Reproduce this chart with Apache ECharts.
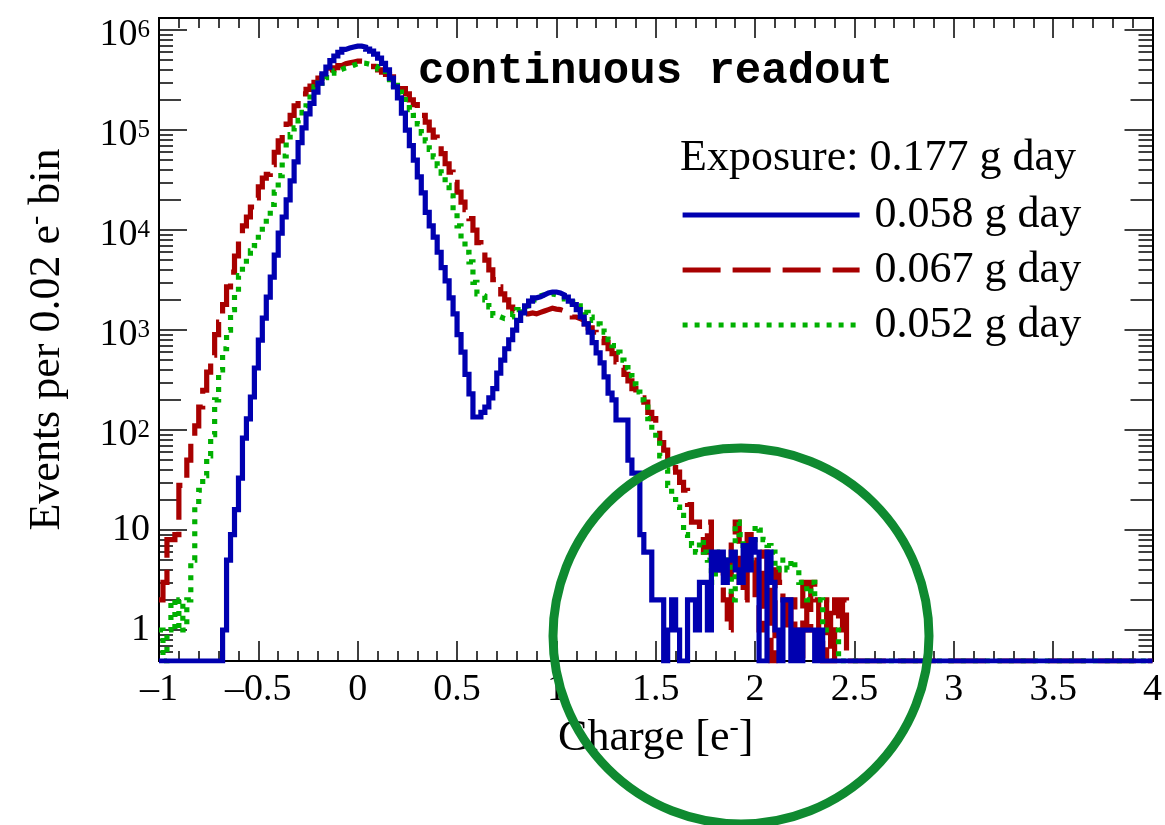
<!DOCTYPE html>
<html><head><meta charset="utf-8">
<script src="https://cdn.jsdelivr.net/npm/echarts@6/dist/echarts.min.js"></script>
<style>html,body{margin:0;padding:0;background:#fff}#c{width:1165px;height:825px}</style>
</head><body><div id="c"></div>
<script>
// Histogram binning (charge in e-)
const binStart = -1, binWidth = 0.02, nBins = 250;

// Counts per 0.02 e- bin, starting at -1 (bins beyond the list are empty)
const blueCounts = [
0,0,0,0,0,0,0,0,0,0,0,0,0,0,0,0,
1,5,9,16,33,83,129,214,417,794,
1318,2138,3388,5623,9300,13500,20000,31000,48000,75000,
105000,145000,185000,240000,295000,365000,425000,495000,550000,600000,
640000,660000,676000,690000,690000,676000,645000,615000,575000,525000,
465000,400000,330000,270000,210000,148000,100000,70000,50000,34000,
23500,15000,11000,8500,6000,4200,3100,2100,1450,900,
600,360,230,135,135,150,170,210,260,370,
500,650,800,1000,1250,1480,1750,1950,2100,2150,
2250,2350,2400,2400,2350,2250,2140,1950,1800,1600,
1350,1150,950,750,590,470,340,234,200,126,
126,126,50,37,37,9,6,6,2,2,
2,0,1,2,1,0,0,2,2,1,
3,3,1,6,4,6,3,5,6,4,
3,7,4,8,6,0,0,6,3,1,
0,2,2,0,1,0,1,1,1,0,
1];
const redCounts = [
2,3,8,8,9,28,30,50,80,110,
170,250,380,560,900,1200,1800,2700,3800,5500,
8000,11000,13500,17000,21000,27000,33000,36000,45000,60000,
78000,93000,115000,140000,175000,205000,230000,255000,275000,300000,
330000,350000,375000,400000,420000,440000,460000,470000,480000,488000,
490000,488000,475000,460000,430000,400000,380000,360000,340000,320000,
300000,260000,230000,200000,180000,160000,140000,120000,100000,85000,
72000,58000,46000,38000,30000,24000,19000,16000,13000,10000,
7500,6000,5000,4000,3200,2700,2300,2000,1700,1550,
1500,1450,1450,1480,1450,1500,1550,1600,1650,1620,
1600,1550,1500,1450,1350,1300,1250,1150,1050,950,
880,820,750,650,580,480,420,360,310,260,
230,210,190,150,130,100,75,63,50,42,
38,30,25,18,12,12,8,6,12,5,
4,5,2,1,8,12,3,2,9,5,
2,1,6,3,0,4,3,2,1,2,
1,0,3,1,3,2,1,0,2,0,
2,1,2];
const greenCounts = [
1,0,1,2,1,2,1,2,5,17,
25,35,55,90,200,400,650,1000,1600,2300,
3500,4500,5500,6200,7000,9000,11000,13500,18000,24000,
35000,55000,75000,90000,105000,125000,150000,175000,230000,270000,
295000,315000,335000,370000,390000,405000,420000,430000,445000,460000,
468000,465000,455000,446000,430000,410000,385000,360000,320000,280000,
240000,214000,185000,160000,140000,115000,93000,78000,64000,54000,
44000,37000,28000,22000,15000,11000,8200,6000,4800,3000,
2300,2200,2000,1700,1400,1350,1300,1300,1350,1450,
1600,1700,1750,1850,2000,2200,2250,2250,2300,2250,
2200,2150,2050,2000,1900,1750,1600,1500,1350,1250,
1150,1050,950,800,700,600,500,420,350,290,
240,200,170,130,100,80,55,40,28,22,
17,14,9,8,7,6,8,6,5,3,
5,6,4,5,2,12,9,7,5,8,
11,10,8,7,6,4,5,5,4,5,
4,3,3,2,3,2,2,1,1,1,
1];

const seriesNames = ['0.058 g day', '0.067 g day', '0.052 g day'];
const exposureLabel = 'Exposure: 0.177 g day';
const titleText = 'continuous readout';
const xTickLabels = [-1, -0.5, 0, 0.5, 1, 1.5, 2, 2.5, 3, 3.5, 4];
const yMajorTicks = [1, 10, 100, 1e3, 1e4, 1e5, 1e6];
const yMin = 0.49, yMax = 1.32e6;

// tick positions for the log axis
const yMinor = [], yTwo = [];
[0.5, 0.6, 0.7, 0.8, 0.9].forEach(v => yMinor.push(v));
for (let e = 0; e < 6; e++) {
  const d = Math.pow(10, e);
  yTwo.push(2 * d);
  for (let k = 3; k <= 9; k++) yMinor.push(k * d);
}

function toSteps(counts) {
  const pts = [];
  let last = yMin;
  for (let i = 0; i < nBins; i++) {
    const c = i < counts.length ? counts[i] : 0;
    last = c > 0 ? c : yMin;
    pts.push([+(binStart + i * binWidth).toFixed(2), last]);
  }
  pts.push([+(binStart + nBins * binWidth).toFixed(2), last]);
  return pts;
}

const SERIF = "'Liberation Serif', 'DejaVu Serif', serif";
const black = '#000';
const titleRich = {
  t: { fontSize: 44, fontFamily: SERIF, color: black },
  s: { fontSize: 28, fontFamily: SERIF, color: black, padding: [0, 0, 22, 0] }
};

function xAxisCfg(pos, labels) {
  return {
    type: 'value', min: -1, max: 4, interval: 0.5, position: pos,
    axisLine: { show: true, onZero: false, lineStyle: { color: black, width: 2 } },
    axisTick: { show: true, inside: true, length: 20, lineStyle: { color: black, width: 1.5 } },
    minorTick: { show: true, splitNumber: 5, length: 10, lineStyle: { color: black, width: 1.5 } },
    splitLine: { show: false },
    axisLabel: labels ? {
      show: true, margin: 10, color: black, fontFamily: SERIF, fontSize: 38,
      customValues: xTickLabels,
      formatter: v => (v < 0 ? '\u2013' + Math.abs(v) : String(v))
    } : { show: false },
    name: labels ? '{t|Charge [e}{s|-}{t|]}' : '',
    nameLocation: 'middle', nameGap: 51,
    nameTextStyle: { color: black, fontFamily: SERIF, fontSize: 44, rich: titleRich }
  };
}

function yAxisCfg(pos, ticks, len, labels) {
  return {
    type: 'log', logBase: 10, min: yMin, max: yMax, position: pos,
    axisLine: { show: true, onZero: false, lineStyle: { color: black, width: 2 } },
    axisTick: { show: true, inside: true, length: len, customValues: ticks, lineStyle: { color: black, width: 1.5 } },
    minorTick: { show: false },
    splitLine: { show: false },
    axisLabel: labels ? {
      show: true, margin: 9, color: black, customValues: yMajorTicks,
      formatter: v => {
        const e = Math.round(Math.log10(v));
        if (e === 0) return '{b|1}';
        if (e === 1) return '{b|10}';
        return '{bp|10}{s|' + e + '}';
      },
      rich: {
        b: { fontSize: 38, fontFamily: SERIF, color: black },
        bp: { fontSize: 38, fontFamily: SERIF, color: black, padding: [10, 0, 0, 0] },
        s: { fontSize: 25, fontFamily: SERIF, color: black }
      }
    } : { show: false },
    name: labels ? '{t|Events per 0.02 e}{s|-}{t| bin}' : '',
    nameLocation: 'middle', nameGap: 87,
    nameTextStyle: { color: black, fontFamily: SERIF, fontSize: 44, rich: titleRich }
  };
}

const chart = echarts.init(document.getElementById('c'), null, { renderer: 'canvas' });
const lw = 5.2;
chart.setOption({
  animation: false,
  backgroundColor: '#fff',
  title: [
    { text: titleText, left: 418, top: 50, padding: 0,
      textStyle: { fontFamily: "'Liberation Mono', 'DejaVu Sans Mono', monospace", fontWeight: 'bold', fontSize: 44, color: black, lineHeight: 44 } },
    { text: exposureLabel, left: 680, top: 136, padding: 0,
      textStyle: { fontFamily: SERIF, fontWeight: 'normal', fontSize: 44, color: black, lineHeight: 44 } }
  ],
  legend: {
    orient: 'vertical', left: 680, top: 193, padding: 0,
    itemWidth: 177, itemHeight: 14, itemGap: 11,
    selectedMode: false,
    data: seriesNames,
    itemStyle: { opacity: 0 },
    lineStyle: { width: lw },
    textStyle: { fontFamily: SERIF, fontSize: 44, color: black, lineHeight: 44, padding: [0, 0, 0, 10] }
  },
  grid: { left: 159, right: 8, top: 18, bottom: 164, containLabel: false },
  xAxis: [xAxisCfg('bottom', true), xAxisCfg('top', false)],
  yAxis: [
    yAxisCfg('left', yMajorTicks, 28, true),
    yAxisCfg('left', yMinor, 14, false),
    yAxisCfg('left', yTwo, 22, false),
    yAxisCfg('right', yMajorTicks, 28, false),
    yAxisCfg('right', yMinor, 14, false),
    yAxisCfg('right', yTwo, 22, false)
  ],
  series: [
    { name: seriesNames[1], type: 'line', step: 'end', xAxisIndex: 0, yAxisIndex: 0,
      symbol: 'none', showSymbol: false, color: '#a80000', z: 2,
      lineStyle: { color: '#a80000', width: lw, type: [38, 12], cap: 'butt', join: 'miter' },
      data: toSteps(redCounts) },
    { name: seriesNames[2], type: 'line', step: 'end', xAxisIndex: 0, yAxisIndex: 0,
      symbol: 'none', showSymbol: false, color: '#00b000', z: 3,
      lineStyle: { color: '#00b000', width: lw, type: [5, 7], cap: 'butt', join: 'miter' },
      data: toSteps(greenCounts) },
    { name: seriesNames[0], type: 'line', step: 'end', xAxisIndex: 0, yAxisIndex: 0,
      symbol: 'none', showSymbol: false, color: '#0000b0', z: 4,
      lineStyle: { color: '#0000b0', width: lw, type: 'solid', cap: 'butt', join: 'miter' },
      data: toSteps(blueCounts) }
  ],
  graphic: [
    { type: 'circle', z: 100, silent: true,
      shape: { cx: 741, cy: 636, r: 188 },
      style: { fill: 'none', stroke: '#0f8a30', lineWidth: 9 } }
  ]
});
</script></body></html>
